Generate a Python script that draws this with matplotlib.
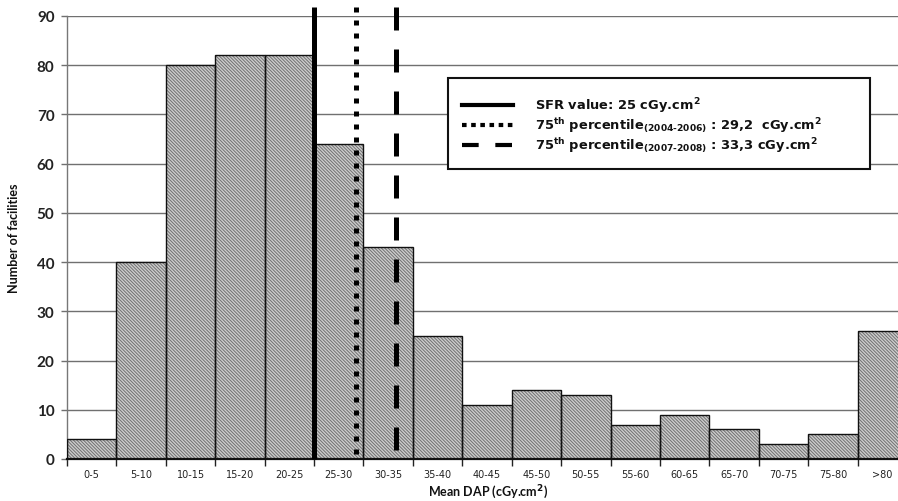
import numpy as np
import matplotlib
matplotlib.use('Agg')
import matplotlib.pyplot as plt
from matplotlib.patches import Rectangle
from matplotlib.lines import Line2D

# facilities per mean DAP class
dap_classes = ['0-5', '5-10', '10-15', '15-20', '20-25', '25-30', '30-35', '35-40',
               '40-45', '45-50', '50-55', '55-60', '60-65', '65-70', '70-75', '75-80', '>80']
n_facilities = [4, 40, 80, 82, 82, 64, 43, 25, 11, 14, 13, 7, 9, 6, 3, 5, 26]

# reference levels (cGy.cm2)
ref_values = [25.0, 29.2, 33.3]
ref_labels = [r'SFR value: 25 cGy.cm$^{2}$',
              r'75$^{th}$ percentile$_{\text{(2004-2006)}}$ : 29,2  cGy.cm$^{2}$',
              r'75$^{th}$ percentile$_{\text{(2007-2008)}}$ : 33,3 cGy.cm$^{2}$']

plt.rcParams['font.family'] = ['Lato', 'DejaVu Sans']
plt.rcParams['mathtext.fontset'] = 'custom'
plt.rcParams['mathtext.rm'] = 'DejaVu Sans:bold'
plt.rcParams['mathtext.it'] = 'DejaVu Sans:bold'
plt.rcParams['mathtext.bf'] = 'DejaVu Sans:bold'
plt.rcParams['hatch.linewidth'] = 0.7

W, H = 898, 502
fig = plt.figure(figsize=(W/100, H/100), dpi=100)
# plot area runs past the right edge of the figure
ax = fig.add_axes([67/W, 1-460/H, 840/W, 443/H])

x = np.arange(len(dap_classes))
ax.bar(x, n_facilities, width=1.0, color='#cdcdcd', edgecolor='#707070',
       hatch='\\' * 10, linewidth=0, zorder=2)
ax.bar(x, n_facilities, width=1.0, fill=False, edgecolor='#111111',
       linewidth=1.0, zorder=3)

ax.set_xlim(-0.5, len(dap_classes)-0.5)
ax.set_ylim(0, 90)
ax.set_yticks(np.arange(0, 91, 10))
ax.yaxis.grid(True, color='#707070', linewidth=1.0, zorder=0)
ax.set_axisbelow(True)

ax.set_xticks(x)
ax.set_xticklabels(dap_classes, fontsize=7, family=['Liberation Sans Narrow', 'DejaVu Sans'],
                   color='#222222')
ax.set_xticks(np.arange(-0.5, len(dap_classes)), minor=True)
ax.tick_params(axis='x', which='major', length=0, pad=7)
ax.tick_params(axis='x', which='minor', length=5, width=1.0, color='#222222')
ax.tick_params(axis='y', length=4, width=1.0, color='#707070', labelsize=11, pad=5)
for lab in ax.get_yticklabels():
    lab.set_fontweight('bold')
    lab.set_color('#222222')

for s in ['top', 'right']:
    ax.spines[s].set_visible(False)
ax.spines['left'].set_color('#777777')
ax.spines['left'].set_linewidth(1.0)
ax.spines['bottom'].set_color('#111111')
ax.spines['bottom'].set_linewidth(1.6)
ax.spines['bottom'].set_zorder(4)

ax.set_ylabel('Number of facilities', fontsize=9, fontweight='bold', color='#111111')
ax.yaxis.set_label_coords(-47/840, 0.5)
ax.set_xlabel('Mean DAP (cGy.cm$^{2}$)', fontsize=9, fontweight='bold', color='#111111')
ax.xaxis.set_label_coords((488-67)/840, -0.052)

# reference lines, DAP value mapped onto the class axis
line_styles = ['-', (0, (1.0, 1.6)), (0, (4.6, 3.8))]
for val, ls in zip(ref_values, line_styles):
    xp = val/5.0 - 0.5
    ax.plot([xp, xp], [91.8, 0], color='black', linewidth=3.6, linestyle=ls,
            dash_capstyle='butt', solid_capstyle='butt', clip_on=False, zorder=5)

# legend box
ft = fig.transFigure
fig.patches.append(Rectangle((448/W, 1-170/H), (870-448)/W, 91/H, transform=ft,
                             facecolor='white', edgecolor='#111111', linewidth=1.5, zorder=6))
leg_styles = ['-', (0, (1.1, 1.1)), (0, (4.0, 4.0))]
for i, (lab, ls) in enumerate(zip(ref_labels, leg_styles)):
    yy = 1 - (106 + 20*i)/H
    fig.lines.append(Line2D([462/W, 513/W], [yy, yy], transform=ft, color='black',
                            linewidth=3.0, linestyle=ls, dash_capstyle='butt', zorder=7))
    fig.text(535/W, yy, lab, fontsize=9.4, fontweight='bold', va='center', ha='left',
             family='DejaVu Sans', color='#111111', zorder=7)

fig.savefig('out.png', dpi=100)
